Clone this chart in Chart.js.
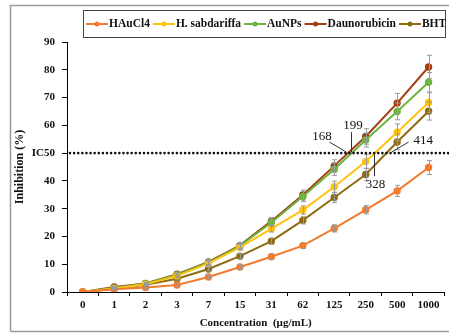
<!DOCTYPE html>
<html><head><meta charset="utf-8">
<script src="https://cdn.jsdelivr.net/npm/chart.js@4/dist/chart.umd.min.js"></script>
<style>html,body{margin:0;padding:0;background:#fff;overflow:hidden}#wrap{width:449px;height:333px;position:relative}</style>
</head><body><div id="wrap"><canvas id="c" width="449" height="333"></canvas></div>
<script>
const categories = ['0','1','2','3','7','15','31','62','125','250','500','1000'];
const seriesNames = ['HAuCl4','H. sabdariffa','AuNPs','Daunorubicin','BHT'];
const hauclValues = [0,1.0,1.6,2.5,5.4,9.0,12.7,16.7,22.9,29.6,36.4,44.8];
const sabdariffaValues = [0,1.3,2.8,5.8,10.3,16.1,22.8,29.5,37.9,47.0,57.5,68.2];
const aunpsValues = [0,1.5,3.0,6.2,10.6,16.6,25.0,34.4,44.2,54.7,65.0,75.5];
const daunoValues = [0,1.8,3.1,6.4,10.8,16.8,25.5,34.9,45.4,56.0,68.0,81.0];
const bhtValues = [0,1.2,2.6,4.8,8.3,12.9,18.3,25.8,34.0,42.3,54.0,65.1];
const hauclErrors = [0,0.3,0.4,0.5,0.6,0.8,1.0,1.0,1.3,1.5,2.0,2.5];
const sabdariffaErrors = [0,0.3,0.4,0.6,0.8,1.0,1.2,1.5,2.0,2.5,3.0,3.5];
const aunpsErrors = [0,0.3,0.4,0.6,0.8,1.0,1.3,1.8,2.2,2.5,3.0,3.5];
const daunoErrors = [0,0.3,0.4,0.6,0.8,1.0,1.3,1.8,2.2,2.8,3.5,4.2];
const bhtErrors = [0,0.3,0.4,0.5,0.7,0.9,1.1,1.3,1.8,2.2,2.8,3.2];
const yTicks = [0,10,20,30,40,50,60,70,80,90];
const ic50Value = 50;
const ic50Labels = ['168','199','328','414'];
const ic50Anchors = [8.37,8.53,9.25,9.81];

const colors = ['#F37A2E','#FFC20E','#6DB33F','#A33D13','#8F6B12'];
const values = [hauclValues,sabdariffaValues,aunpsValues,daunoValues,bhtValues];
const errors = [hauclErrors,sabdariffaErrors,aunpsErrors,daunoErrors,bhtErrors];
const serif = '"Liberation Serif","Times New Roman",serif';

const datasets = seriesNames.map((n,i)=>({
  label:n, data:values[i], borderColor:colors[i], backgroundColor:colors[i],
  borderWidth:2, pointRadius:2.7, pointHoverRadius:2.7, pointStyle:'circle', tension:0,
  errors:errors[i]
}));

const framePlugin = {
  id:'frame',
  beforeDraw(chart){
    const ctx=chart.ctx; ctx.save();
    ctx.strokeStyle='#9a9a9a'; ctx.lineWidth=1.5;
    ctx.beginPath();
    ctx.moveTo(10.5,331.5); ctx.lineTo(10.5,5.5); ctx.lineTo(449,5.5);
    ctx.moveTo(10.5,331.5); ctx.lineTo(449,331.5);
    ctx.stroke(); ctx.restore();
  }
};

const errorPlugin = {
  id:'errbars',
  afterDatasetsDraw(chart){
    const ctx=chart.ctx, ys=chart.scales.y;
    ctx.save(); ctx.strokeStyle='#9a9a9a'; ctx.lineWidth=1;
    chart.data.datasets.forEach((ds,i)=>{
      const meta=chart.getDatasetMeta(i);
      ds.data.forEach((v,j)=>{
        const e=ds.errors[j]; if(!e) return;
        const x=Math.round(meta.data[j].x)+0.5;
        const t=ys.getPixelForValue(v+e), b=ys.getPixelForValue(v-e);
        ctx.beginPath();
        ctx.moveTo(x,t); ctx.lineTo(x,b);
        ctx.moveTo(x-2.5,t); ctx.lineTo(x+2.5,t);
        ctx.moveTo(x-2.5,b); ctx.lineTo(x+2.5,b);
        ctx.stroke();
      });
    });
    ctx.restore();
  }
};

const ic50Plugin = {
  id:'ic50',
  afterDatasetsDraw(chart){
    const ctx=chart.ctx, ys=chart.scales.y, xs=chart.scales.x, ca=chart.chartArea;
    const y=ys.getPixelForValue(ic50Value);
    ctx.save();
    ctx.strokeStyle='#111'; ctx.lineWidth=2.6; ctx.lineCap='round';
    ctx.setLineDash([0.01,4.1]);
    ctx.beginPath(); ctx.moveTo(ca.left+3,y); ctx.lineTo(449,y); ctx.stroke();
    ctx.setLineDash([]); ctx.lineCap='butt';
    const offs=[{lx:-17,ly:-11,tx:-24,ty:-17},{lx:0,ly:-21,tx:2,ty:-28},{lx:0,ly:23,tx:2,ty:31},{lx:17,ly:-11,tx:32,ty:-13}];
    ctx.strokeStyle='#333'; ctx.lineWidth=1;
    ctx.fillStyle='#111'; ctx.font='13px '+serif; ctx.textAlign='center'; ctx.textBaseline='middle';
    ic50Labels.forEach((lab,k)=>{
      const step=(xs.getPixelForValue(1)-xs.getPixelForValue(0));
      const ax=xs.getPixelForValue(Math.floor(ic50Anchors[k]))+step*(ic50Anchors[k]-Math.floor(ic50Anchors[k]));
      const o=offs[k];
      ctx.beginPath(); ctx.moveTo(Math.round(ax)+0.5,y+(k===2?1:-1)); ctx.lineTo(Math.round(ax+o.lx)+0.5,y+o.ly); ctx.stroke();
      ctx.fillText(lab,ax+o.tx,y+o.ty);
    });
    ctx.restore();
  }
};

const legendPlugin = {
  id:'customLegend',
  afterDraw(chart){
    const ctx=chart.ctx; ctx.save();
    ctx.strokeStyle='#444'; ctx.lineWidth=1;
    ctx.strokeRect(83.5,10.5,362,27);
    ctx.font='bold 11.5px '+serif; ctx.textBaseline='middle'; ctx.textAlign='left';
    let x=86; const y=24;
    chart.data.datasets.forEach((ds,i)=>{
      ctx.strokeStyle=ds.borderColor; ctx.lineWidth=2;
      ctx.beginPath(); ctx.moveTo(x,y); ctx.lineTo(x+22,y); ctx.stroke();
      ctx.fillStyle=ds.borderColor; ctx.beginPath(); ctx.arc(x+11,y,2.5,0,Math.PI*2); ctx.fill();
      x+=23;
      ctx.fillStyle='#111'; ctx.fillText(ds.label,x,y+0.5);
      x+=ctx.measureText(ds.label).width+3;
    });
    ctx.restore();
  }
};

new Chart(document.getElementById('c'),{
  type:'line',
  data:{labels:categories,datasets},
  options:{
    responsive:false, animation:false, devicePixelRatio:1,
    layout:{padding:{left:10,right:-2,top:42,bottom:0}},
    plugins:{legend:{display:false},tooltip:{enabled:false}},
    scales:{
      x:{
        offset:true,
        grid:{display:true,offset:true,drawOnChartArea:false,color:'#000',tickLength:4,lineWidth:1},
        border:{display:true,color:'#000',width:1},
        ticks:{color:'#111',font:{family:serif,size:11,weight:'bold'},padding:3,maxRotation:0,autoSkip:false},
        title:{display:true,text:'Concentration  (µg/mL)',color:'#111',font:{family:serif,size:11,weight:'bold'},padding:{top:2,bottom:3}},
        afterFit(s){s.height=41;}
      },
      y:{
        min:0,max:90,
        afterBuildTicks(s){s.ticks=yTicks.map(v=>({value:v}));},
        grid:{display:true,drawOnChartArea:false,color:'#000',tickLength:5,lineWidth:1},
        border:{display:true,color:'#000',width:1},
        ticks:{color:'#111',font:{family:serif,size:11,weight:'bold'},padding:7,callback:v=>v===ic50Value?'IC50':String(v)},
        title:{display:true,text:'Inhibition (%)',color:'#111',font:{family:serif,size:12,weight:'bold'},padding:{top:3,bottom:0}},
        afterFit(s){s.width=57;}
      }
    }
  },
  plugins:[framePlugin,errorPlugin,ic50Plugin,legendPlugin]
});
</script></body></html>
